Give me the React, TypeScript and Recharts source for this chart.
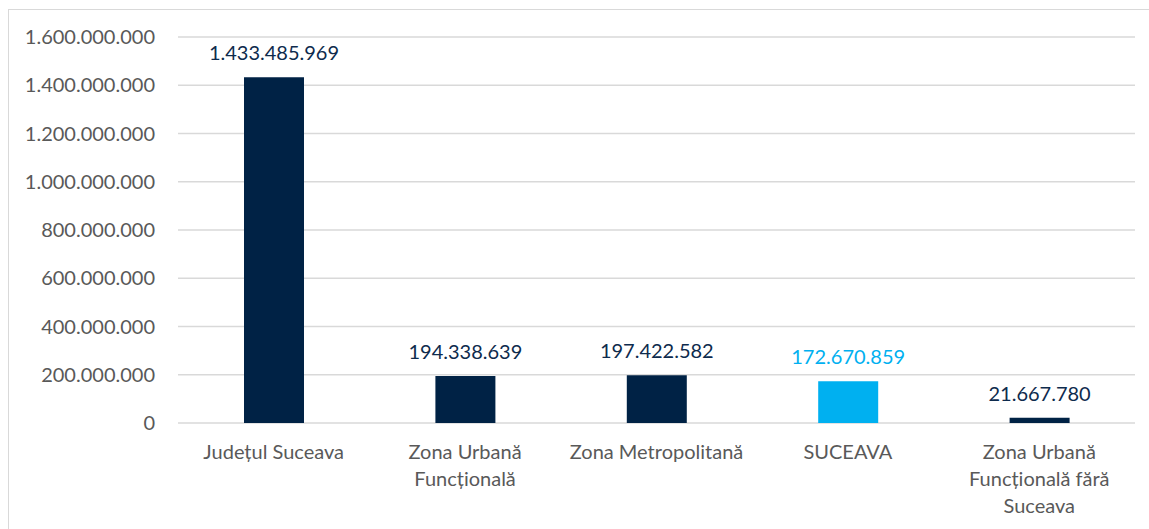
import React from 'react';
import { BarChart, Bar, XAxis, YAxis, CartesianGrid, Cell, LabelList } from 'recharts';

const categories = [
  'Județul Suceava',
  'Zona Urbană\nFuncțională',
  'Zona Metropolitană',
  'SUCEAVA',
  'Zona Urbană\nFuncțională fără\nSuceava',
];
const values = [1433485969, 194338639, 197422582, 172670859, 21667780];
const barColors = ['#002245', '#002245', '#002245', '#00B0F0', '#002245'];
const labelColors = ['#0E2B4D', '#0E2B4D', '#0E2B4D', '#00B0F0', '#0E2B4D'];
const yTicks = [0, 200000000, 400000000, 600000000, 800000000, 1000000000, 1200000000, 1400000000, 1600000000];

const data = categories.map((name, i) => ({ name, value: values[i] }));

const FONT = 'Lato, "Open Sans", sans-serif';

const fmt = (n: number) => String(Math.round(n)).replace(/\B(?=(\d{3})+(?!\d))/g, '.');

const CategoryTick = (props: any) => {
  const { x, y, payload } = props;
  const lines = String(payload.value).split('\n');
  return (
    <text x={x} y={y} textAnchor="middle" fill="#595959" fontSize={20} fontFamily={FONT}>
      {lines.map((line, i) => (
        <tspan key={i} x={x} dy={i === 0 ? 36 : 27}>
          {line}
        </tspan>
      ))}
    </text>
  );
};

const ValueLabel = (props: any) => {
  const { x, y, width, value, index } = props;
  return (
    <text
      x={x + width / 2}
      y={y - 17}
      textAnchor="middle"
      fill={labelColors[index]}
      fontSize={20}
      fontFamily={FONT}
    >
      {fmt(value)}
    </text>
  );
};

export default function App() {
  return (
    <>
      <style>{'body{margin:0;overflow:hidden;}'}</style>
      <div
        style={{
          margin: '9px 0 0 8px',
          width: 1140,
          height: 519,
          borderTop: '1px solid #d9d9d9',
          borderLeft: '1px solid #d9d9d9',
          background: '#fff',
        }}
      >
        <BarChart
          width={1140}
          height={519}
          data={data}
          margin={{ top: 27, right: 14, left: 0, bottom: 0 }}
          barSize={60}
        >
          <CartesianGrid vertical={false} stroke="#d9d9d9" strokeWidth={1.5} />
          <XAxis
            dataKey="name"
            axisLine={false}
            tickLine={false}
            tickSize={0}
            tickMargin={0}
            height={106}
            interval={0}
            tick={<CategoryTick />}
          />
          <YAxis
            width={169}
            domain={[0, 1600000000]}
            ticks={yTicks}
            axisLine={false}
            tickLine={false}
            tickSize={0}
            tickMargin={23}
            tickFormatter={fmt}
            tick={{ fill: '#595959', fontSize: 20, fontFamily: FONT }}
          />
          <Bar dataKey="value" isAnimationActive={false}>
            {data.map((_, i) => (
              <Cell key={i} fill={barColors[i]} />
            ))}
            <LabelList dataKey="value" content={<ValueLabel />} />
          </Bar>
        </BarChart>
      </div>
    </>
  );
}
